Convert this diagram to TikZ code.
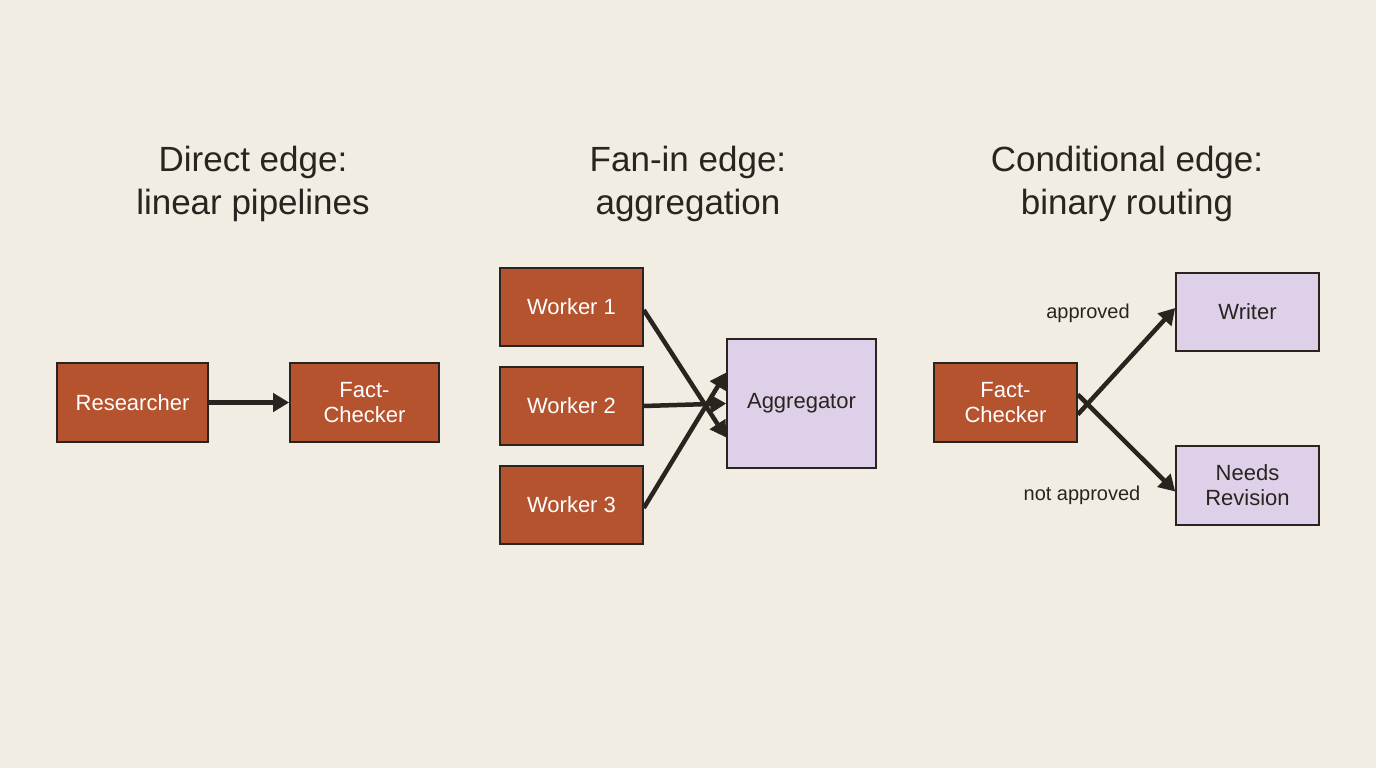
\documentclass[tikz,border=0pt]{standalone}
\usepackage{fontspec}
\setmainfont{Liberation Sans}
\usetikzlibrary{arrows.meta}
\definecolor{bg}{HTML}{F2EDE2}
\definecolor{org}{HTML}{B5532F}
\definecolor{lav}{HTML}{DDD0E8}
\definecolor{ink}{HTML}{2A2420}
\begin{document}
\begin{tikzpicture}[x=1pt,y=-1pt,
  box/.style={draw=ink,line width=1.6pt,inner sep=0pt,align=center,font=\fontsize{22}{25}\selectfont},
  onode/.style={box,fill=org,text=white},
  lnode/.style={box,fill=lav,text=ink},
  title/.style={align=center,text=ink,font=\fontsize{35}{43}\selectfont},
  lab/.style={text=ink,font=\fontsize{20}{24}\selectfont},
  arr/.style={draw=ink,line width=4.5pt,-{Triangle[length=16pt,width=18pt]}}]
\fill[bg] (0,0) rectangle (1376,768);
\useasboundingbox (0,0) rectangle (1376,768);
\node[title] (t1) at (253,184) {Direct edge:\\linear pipelines};
\node[title] (t2) at (688,184) {Fan-in edge:\\aggregation};
\node[title] (t3) at (1127,184) {Conditional edge:\\binary routing};
\node[onode,minimum width=151,minimum height=79] (r) at (132.5,402.5) {Researcher};
\node[onode,minimum width=149,minimum height=79] (f) at (364.5,402.5) {Fact-\\Checker};
\node[onode,minimum width=143,minimum height=78] (w1) at (571.5,307) {Worker 1};
\node[onode,minimum width=143,minimum height=78] (w2) at (571.5,406) {Worker 2};
\node[onode,minimum width=143,minimum height=78] (w3) at (571.5,505) {Worker 3};
\node[lnode,minimum width=149,minimum height=129] (a) at (801.5,403.5) {Aggregator};
\node[onode,minimum width=143,minimum height=79] (f2) at (1005.5,402.5) {Fact-\\Checker};
\node[lnode,minimum width=143,minimum height=78] (wr) at (1247.5,312) {Writer};
\node[lnode,minimum width=143,minimum height=79] (nr) at (1247.5,485.5) {Needs\\Revision};
\draw[arr] (r.east) -- (f.west);
\draw[arr] ([yshift=-3]w1.east) -- ([yshift=-34]a.west);
\draw[arr] (w2.east) -- (a.west);
\draw[arr] ([yshift=-3]w3.east) -- ([yshift=31]a.west);
\draw[arr] ([yshift=-12]f2.east) -- ([yshift=4]wr.west);
\draw[arr] ([yshift=8]f2.east) -- ([yshift=-6]nr.west);
\node[lab] (l1) at (1088,313) {approved};
\node[lab] (l2) at (1082,495) {not approved};
\end{tikzpicture}
\end{document}
